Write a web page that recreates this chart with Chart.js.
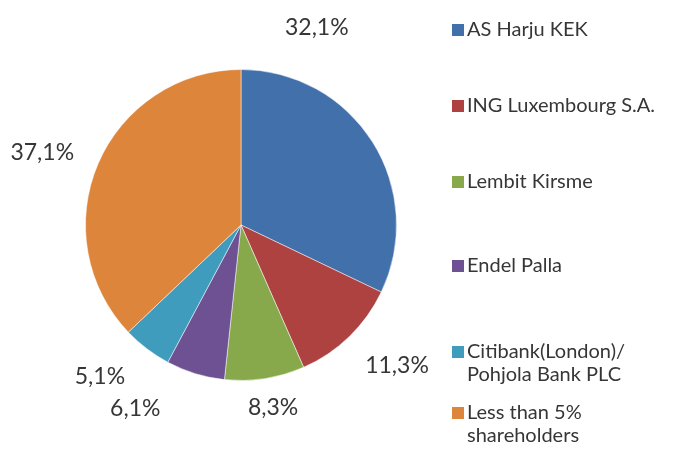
<!DOCTYPE html>
<html>
<head>
<meta charset="utf-8">
<script src="https://cdn.jsdelivr.net/npm/chart.js@4/dist/chart.umd.min.js"></script>
<style>
    html, body { margin: 0; padding: 0; background: #fff; }
    #wrap { width: 675px; height: 455px; }
</style>
</head>
<body>
<div id="wrap"><canvas id="pieChart" width="675" height="455"></canvas></div>
<script>
// --------- Données ----------
const holders = [
    "AS Harju KEK",
    "ING Luxembourg S.A.",
    "Lembit Kirsme",
    "Endel Palla",
    ["Citibank(London)/", "Pohjola Bank PLC"],
    ["Less than 5%", "shareholders"]
];
const shares = [32.1, 11.3, 8.3, 6.1, 5.1, 37.1];
const shareLabels = ["32,1%", "11,3%", "8,3%", "6,1%", "5,1%", "37,1%"];

const sliceColors = ["#4170AA", "#AE4240", "#87A84B", "#6D5192", "#3F9CBC", "#DE853C"];

// placement des étiquettes (angle en degrés depuis le haut, distance / rayon)
const labelPlacement = [[21, 1.36], [132, 1.35], [170, 1.19], [210, 1.36], [223, 1.33], [290, 1.36]];
// position verticale de la première ligne de chaque entrée de légende
const legendRows = [30, 106, 182, 266, 352, 413];

const FONT = "Lato, 'Open Sans', sans-serif";
const TEXT_COLOR = "#363636";

// --------- Étiquettes de pourcentage ----------
const percentLabels = {
    id: "percentLabels",
    afterDatasetsDraw(chart) {
        const ctx = chart.ctx;
        const arcs = chart.getDatasetMeta(0).data;
        ctx.save();
        ctx.font = "23px " + FONT;
        ctx.fillStyle = TEXT_COLOR;
        ctx.textAlign = "center";
        ctx.textBaseline = "middle";
        arcs.forEach((arc, i) => {
            const [deg, f] = labelPlacement[i];
            const a = (deg - 90) * Math.PI / 180;
            const r = arc.outerRadius * f;
            ctx.fillText(shareLabels[i], arc.x + Math.cos(a) * r, arc.y + Math.sin(a) * r);
        });
        ctx.restore();
    }
};

// --------- Légende à droite ----------
const sideLegend = {
    id: "sideLegend",
    afterDraw(chart) {
        const ctx = chart.ctx;
        const colors = chart.data.datasets[0].backgroundColor;
        ctx.save();
        ctx.font = "20px " + FONT;
        ctx.textBaseline = "middle";
        ctx.textAlign = "left";
        chart.data.labels.forEach((label, i) => {
            const lines = Array.isArray(label) ? label : [label];
            const y = legendRows[i];
            ctx.fillStyle = colors[i];
            ctx.fillRect(452, y - 6, 12, 12);
            ctx.fillStyle = TEXT_COLOR;
            lines.forEach((line, k) => ctx.fillText(line, 467, y + k * 23));
        });
        ctx.restore();
    }
};

// --------- Graphique ----------
document.addEventListener("DOMContentLoaded", () => {
    const ctx = document.getElementById("pieChart").getContext("2d");
    new Chart(ctx, {
        type: "pie",
        data: {
            labels: holders,
            datasets: [{
                data: shares,
                backgroundColor: sliceColors,
                borderColor: "rgba(255,255,255,0.5)",
                borderWidth: 1
            }]
        },
        options: {
            responsive: false,
            animation: false,
            layout: { padding: { left: 85, right: 278, top: 69, bottom: 74 } },
            plugins: {
                legend: { display: false },
                tooltip: { enabled: false }
            }
        },
        plugins: [percentLabels, sideLegend]
    });
});
</script>
</body>
</html>
